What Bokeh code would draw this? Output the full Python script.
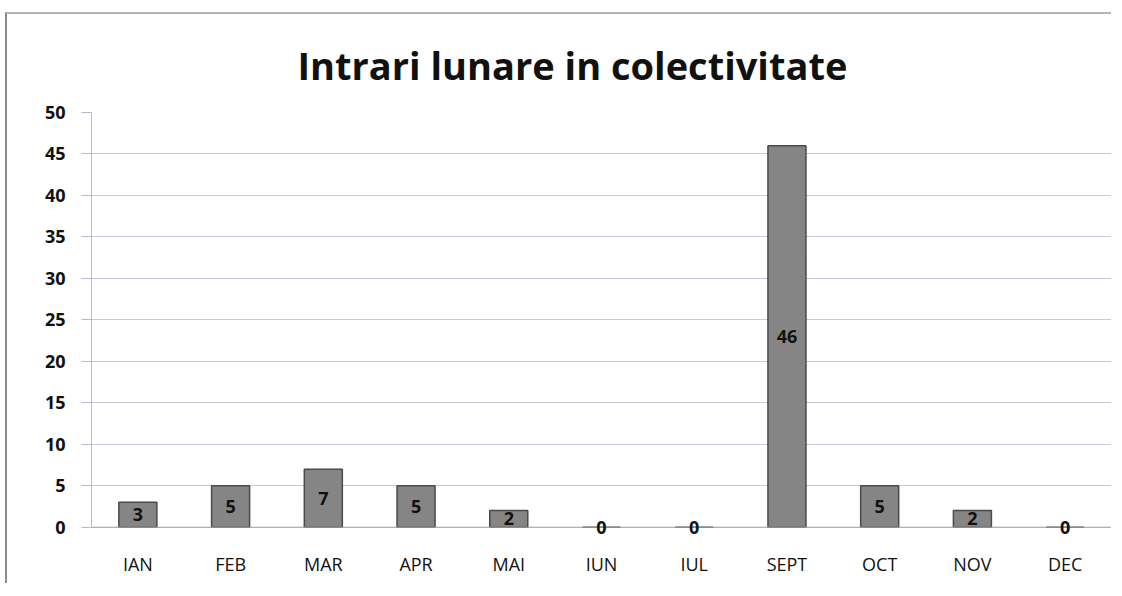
from bokeh.plotting import figure
from bokeh.models import ColumnDataSource, FactorRange, Range1d, SingleIntervalTicker, LabelSet, Span
from bokeh.core.properties import value
from bokeh.embed import file_html
from bokeh.resources import INLINE

months = ["IAN", "FEB", "MAR", "APR", "MAI", "IUN", "IUL", "SEPT", "OCT", "NOV", "DEC"]
counts = [3, 5, 7, 5, 2, 0, 0, 46, 5, 2, 0]

src = ColumnDataSource(dict(
    m=months,
    v=counts,
    mid=[c / 2 for c in counts],
    lbl=[str(c) for c in counts],
))

p = figure(
    width=1106, height=571,
    x_range=FactorRange(*months, range_padding=0),
    y_range=Range1d(-1, 50),
    output_backend="svg", toolbar_location=None,
    min_border_left=84, min_border_right=2, min_border_top=94, min_border_bottom=50,
    title="Intrari lunare in colectivitate",
    styles={"margin-left": "5px", "margin-top": "12px",
            "border-left": "2px solid #8c8c8c", "border-top": "2px solid #b4b4b4"},
)
p.title.align = "left"
p.title.offset = 206
p.title.text_font = "Open Sans"
p.title.text_font_style = "bold"
p.title.text_font_size = "38px"
p.title.text_color = "#111111"
p.title.standoff = 44

p.outline_line_color = None
p.xgrid.grid_line_color = None
p.ygrid.grid_line_color = "#c3cbdd"
p.ygrid.grid_line_width = 1

# baseline (category axis line at zero)
p.add_layout(Span(location=0, dimension="width", line_color="#a8a8a8", line_width=1))

p.vbar(x="m", top="v", width=0.41, source=src,
       fill_color="#858585", line_color="#4a4a4a", line_width=1.5)

labels = LabelSet(x="m", y="mid", text="lbl", source=src,
                  text_align="center", text_baseline="middle",
                  text_font=value("Open Sans"), text_font_style="bold",
                  text_font_size="18px", text_color="#111111")
p.add_layout(labels)

p.yaxis.ticker = SingleIntervalTicker(interval=5)
p.yaxis.bounds = (0, 50)
p.yaxis.axis_line_color = "#b4bccc"
p.yaxis.major_tick_line_color = "#b4bccc"
p.yaxis.major_tick_out = 10
p.yaxis.major_tick_in = 0
p.yaxis.minor_tick_line_color = None
p.yaxis.major_label_text_font = "Open Sans"
p.yaxis.major_label_text_font_style = "bold"
p.yaxis.major_label_text_font_size = "18px"
p.yaxis.major_label_text_color = "#111111"
p.yaxis.major_label_standoff = 16

p.xaxis.axis_line_color = None
p.xaxis.major_tick_line_color = None
p.xaxis.major_label_text_font = "Open Sans"
p.xaxis.major_label_text_font_size = "18px"
p.xaxis.major_label_text_color = "#111111"
p.xaxis.major_label_standoff = 10

p.border_fill_color = "white"

open("out.html", "w").write(file_html(p, INLINE))
